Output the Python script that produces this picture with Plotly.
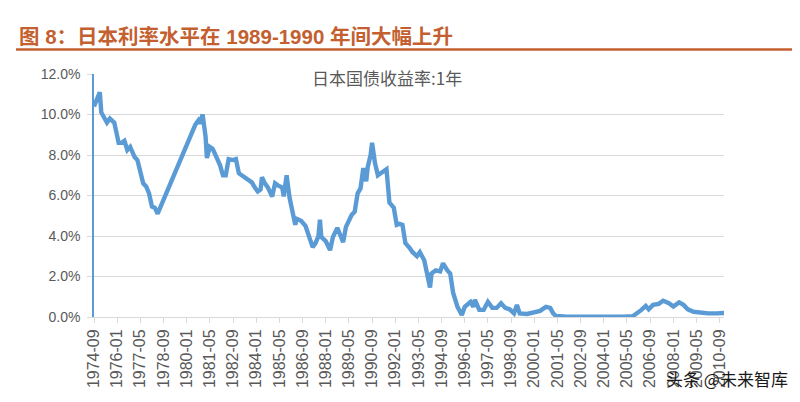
import plotly.graph_objects as go

# Japan 1-year government bond yield (%)
months = [
    "1974-09", "1974-11", "1975-01", "1975-02", "1975-04", "1975-06", "1975-08", "1975-11",
    "1976-02", "1976-04", "1976-06", "1976-08", "1976-10", "1977-01", "1977-03", "1977-05",
    "1977-07", "1977-09", "1977-11", "1978-01", "1978-03", "1978-05",
    "1980-07", "1980-09", "1980-10", "1980-12", "1981-02", "1981-03", "1981-05", "1981-07",
    "1981-09", "1981-12", "1982-02", "1982-04", "1982-06", "1982-09", "1982-11", "1983-01",
    "1983-04", "1983-08", "1983-10", "1983-12", "1984-02", "1984-04", "1984-05", "1984-07",
    "1984-09", "1984-12", "1985-02", "1985-04", "1985-07", "1985-08", "1985-10", "1985-12",
    "1986-02", "1986-04", "1986-05", "1986-08", "1986-11", "1987-01", "1987-04", "1987-06",
    "1987-08", "1987-09", "1987-10", "1988-01", "1988-04", "1988-06", "1988-09", "1988-11",
    "1989-01", "1989-03", "1989-05", "1989-07", "1989-09", "1989-11", "1990-01", "1990-03",
    "1990-05", "1990-06", "1990-08", "1990-09", "1990-11", "1991-01", "1991-03", "1991-06",
    "1991-07", "1991-09", "1991-12", "1992-02", "1992-04", "1992-06", "1992-08", "1992-11",
    "1993-01", "1993-04", "1993-06", "1993-09", "1993-11", "1994-01", "1994-02", "1994-05",
    "1994-08", "1994-10", "1995-01", "1995-03", "1995-05", "1995-08", "1995-11", "1996-01",
    "1996-05", "1996-07", "1996-08", "1996-11", "1997-02", "1997-05", "1997-08", "1997-11",
    "1998-02", "1998-05", "1998-08", "1998-11", "1999-01", "1999-03", "1999-08", "1999-12",
    "2000-05", "2000-09", "2000-12", "2001-02", "2001-04", "2001-10", "2002-08", "2003-06",
    "2004-04", "2005-02", "2005-09", "2005-12", "2006-03", "2006-06", "2006-08", "2006-11",
    "2007-03", "2007-06", "2007-10", "2008-01", "2008-05", "2008-08", "2008-11", "2009-03",
    "2009-07", "2010-01", "2010-07", "2010-12",
]
yields = [
    10.4, 10.7, 11.1, 10.1, 9.9, 9.6, 9.8, 9.6,
    8.6, 8.6, 8.7, 8.25, 8.4, 7.9, 7.75, 7.25,
    6.6, 6.45, 6.1, 5.45, 5.4, 5.1,
    9.5, 9.7, 9.55, 10.0, 8.9, 7.85, 8.4, 8.3,
    8.0, 7.5, 7.0, 7.0, 7.8, 7.75, 7.8, 7.1,
    6.95, 6.75, 6.65, 6.4, 6.2, 6.3, 6.9, 6.6,
    6.4, 5.95, 6.6, 6.5, 6.4, 5.95, 7.0, 5.9,
    5.1, 4.55, 4.85, 4.75, 4.5, 4.05, 3.45, 3.65,
    4.0, 4.8, 3.95, 3.75, 3.3, 3.95, 4.4, 4.05,
    3.7, 4.45, 4.8, 5.05, 5.2, 6.1, 6.35, 7.35,
    6.7, 7.4, 8.0, 8.6, 7.6, 7.0, 7.1, 7.25,
    7.3, 5.65, 5.4, 4.55, 4.6, 4.55, 3.65, 3.4,
    3.2, 3.0, 3.2, 2.8, 2.15, 1.45, 2.15, 2.3,
    2.25, 2.65, 2.3, 2.15, 1.2, 0.5, 0.1, 0.5,
    0.75, 0.5, 0.85, 0.35, 0.35, 0.75, 0.45, 0.45,
    0.68, 0.45, 0.38, 0.18, 0.6, 0.18, 0.15, 0.22,
    0.3, 0.5, 0.45, 0.18, 0.05, 0.03, 0.02, 0.04,
    0.02, 0.02, 0.04, 0.18, 0.35, 0.55, 0.38, 0.6,
    0.65, 0.8, 0.68, 0.52, 0.72, 0.6, 0.38, 0.26,
    0.22, 0.18, 0.18, 0.2,
]

tick_months = [
    "1974-09", "1976-01", "1977-05", "1978-09", "1980-01", "1981-05", "1982-09",
    "1984-01", "1985-05", "1986-09", "1988-01", "1989-05", "1990-09", "1992-01",
    "1993-05", "1994-09", "1996-01", "1997-05", "1998-09", "2000-01", "2001-05",
    "2002-09", "2004-01", "2005-05", "2006-09", "2008-01", "2009-05", "2010-09",
]
y_ticks = [0, 2, 4, 6, 8, 10, 12]
y_tick_labels = ["0.0%", "2.0%", "4.0%", "6.0%", "8.0%", "10.0%", "12.0%"]

title_text = "图 8：日本利率水平在 1989-1990 年间大幅上升"
series_name = "日本国债收益率:1年"

FONT = "Liberation Sans, Arial, Noto Sans CJK SC, sans-serif"
CJK = "Noto Sans CJK SC, Liberation Sans, sans-serif"
TITLE_FONT = "Liberation Sans, Noto Sans CJK SC, sans-serif"
TITLE_COLOR = "#C4602F"
GRAY = "#595959"

# page body has an 8px margin: work in screen coordinates and shift
OFF = 8
PL, PR, PT, PB = 94 - OFF, 724 - OFF, 74 - OFF, 317 - OFF  # plot box in figure px
PW, PH = PR - PL, PB - PT


def px(x):
    return (x - OFF - PL) / PW


def py(y):
    return (PB - (y - OFF)) / PH


fig = go.Figure()
fig.add_trace(go.Scatter(
    x=[m + "-01" for m in months], y=yields, mode="lines", name=series_name,
    line=dict(color="#5B9BD5", width=4.4), connectgaps=True, showlegend=False,
))

fig.update_layout(
    width=800, height=402,
    margin=dict(l=PL, r=800 - PR, t=PT, b=402 - PB),
    paper_bgcolor="white", plot_bgcolor="white",
    font=dict(family=FONT, color=GRAY),
    xaxis=dict(
        type="date",
        range=["1974-09-01", "2010-12-01"],
        tickvals=[m + "-01" for m in tick_months],
        ticktext=tick_months,
        tickangle=-90,
        tickfont=dict(size=16, color=GRAY, family=FONT),
        showgrid=False, zeroline=False,
        showline=True, linecolor="#d9d9d9", linewidth=1,
        ticks="outside", ticklen=5, tickcolor="#d9d9d9",
        automargin=False,
    ),
    yaxis=dict(
        range=[0, 12],
        tickvals=y_ticks, ticktext=y_tick_labels,
        tickfont=dict(size=14, color=GRAY, family=FONT),
        showgrid=True, gridcolor="#d9d9d9", gridwidth=1,
        zeroline=False,
        showline=True, linecolor="#5B9BD5", linewidth=1.5,
        ticks="outside", ticklen=5, tickcolor="#d9d9d9",
        ticklabelstandoff=4,
        automargin=False,
    ),
    annotations=[
        dict(text="<b>" + title_text + "</b>", xref="paper", yref="paper",
             x=px(17), xanchor="left", y=py(37), yanchor="middle",
             showarrow=False, font=dict(size=20.5, color=TITLE_COLOR, family=TITLE_FONT)),
        dict(text=series_name, xref="paper", yref="paper",
             x=px(387), xanchor="center", y=py(77), yanchor="middle",
             showarrow=False, font=dict(size=17, color=GRAY, family=CJK)),
        dict(text="头条 @未来智库", xref="paper", yref="paper",
             x=px(790), xanchor="right", y=py(378), yanchor="middle",
             showarrow=False, font=dict(size=17, color="#1a1a1a", family=CJK)),
    ],
    shapes=[
        dict(type="line", xref="paper", yref="paper",
             x0=px(16), x1=px(808),
             y0=py(49.5), y1=py(49.5),
             line=dict(color=TITLE_COLOR, width=2.5)),
    ],
)

fig.write_html("out.html")
